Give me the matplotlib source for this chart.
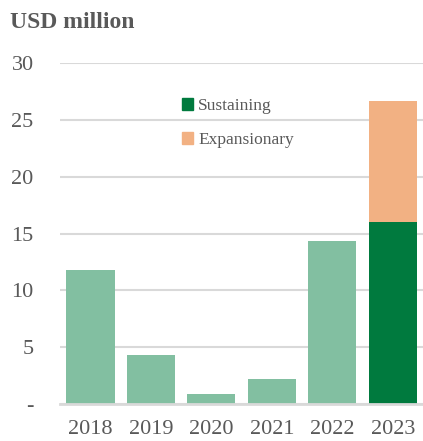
import numpy as np
import matplotlib.pyplot as plt
from matplotlib.patches import Patch

years = ["2018", "2019", "2020", "2021", "2022", "2023"]
total_capex = [11.8, 4.35, 0.9, 2.2, 14.3, None]  # 2023 split below
sustaining_2023 = 16.0
expansionary_2023 = 10.6
y_ticks = [0, 5, 10, 15, 20, 25, 30]
y_tick_labels = ["-", "5", "10", "15", "20", "25", "30"]

LIGHT_GREEN = "#82bfa1"
DARK_GREEN = "#007a3e"
ORANGE = "#f2b183"
GRID = "#d9d9d9"
TEXT = "#595959"

plt.rcParams['font.family'] = ['Liberation Serif', 'DejaVu Serif']

fig = plt.figure(figsize=(4.23, 4.41), dpi=100)
ax = fig.add_axes([0.142, 0.083, 0.858, 0.775])

x = np.arange(len(years))
width = 0.8

# historical years as a single total
hist_vals = [v for v in total_capex if v is not None]
ax.bar(x[:len(hist_vals)], hist_vals, width=width, color=LIGHT_GREEN, zorder=3)

# 2023 split into sustaining + expansionary
ax.bar(x[-1], sustaining_2023, width=width, color=DARK_GREEN, zorder=3)
ax.bar(x[-1], expansionary_2023, bottom=sustaining_2023, width=width, color=ORANGE, zorder=3)

ax.set_xlim(-0.5, 5.5)
ax.set_ylim(0, 30)
ax.set_yticks(y_ticks)
ax.set_yticklabels(y_tick_labels)
ax.set_xticks(x)
ax.set_xticklabels(years)

ax.yaxis.grid(True, color=GRID, linewidth=1.5, zorder=0)
ax.set_axisbelow(True)
for side in ["top", "right", "left"]:
    ax.spines[side].set_visible(False)
ax.spines["bottom"].set_color(GRID)
ax.spines["bottom"].set_linewidth(2)
ax.spines["bottom"].set_zorder(4)

ax.tick_params(axis="y", length=0, pad=19, labelsize=16, labelcolor=TEXT)
ax.tick_params(axis="x", length=0, pad=11, labelsize=16, labelcolor=TEXT)

handles = [Patch(color=DARK_GREEN, label="Sustaining"),
           Patch(color=ORANGE, label="Expansionary")]
leg = ax.legend(handles=handles, loc="upper left", bbox_to_anchor=(0.335, 0.897),
                frameon=False, fontsize=12.5, handlelength=0.65, handleheight=0.65,
                handletextpad=0.3, labelspacing=1.05, borderpad=0, borderaxespad=0)
for t in leg.get_texts():
    t.set_color(TEXT)

fig.text(0.024, 0.948, "USD million", fontsize=17, fontweight="bold",
         color=TEXT, ha="left", va="center")

fig.savefig("out.png", dpi=100)
